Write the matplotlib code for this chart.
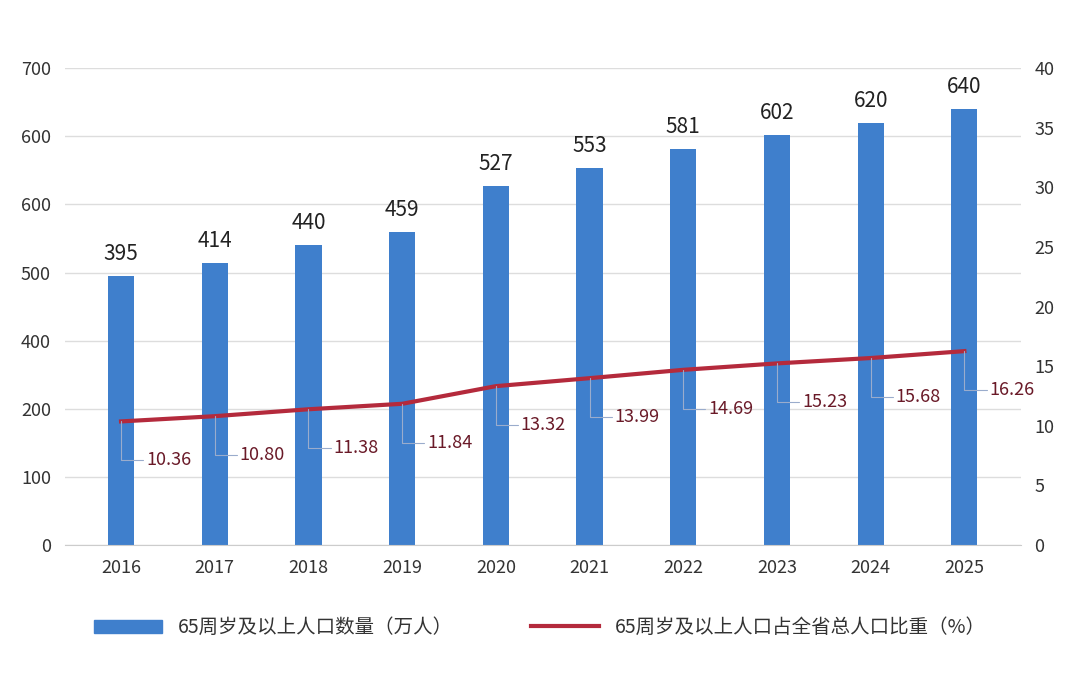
import matplotlib
matplotlib.use('Agg')
import matplotlib.pyplot as plt
from matplotlib.patches import Patch
from matplotlib.lines import Line2D

plt.rcParams['font.family'] = ['Noto Sans CJK SC', 'DejaVu Sans']

years = ['2016', '2017', '2018', '2019', '2020', '2021', '2022', '2023', '2024', '2025']
population = [395, 414, 440, 459, 527, 553, 581, 602, 620, 640]
share = [10.36, 10.80, 11.38, 11.84, 13.32, 13.99, 14.69, 15.23, 15.68, 16.26]
left_ticks = [0, 100, 200, 300, 400, 500, 600, 700]
left_labels = ['0', '100', '200', '400', '500', '600', '600', '700']
right_ticks = [0, 5, 10, 15, 20, 25, 30, 35, 40]

bar_color = '#3f7fcc'
line_color = '#b42a3c'
label_red = '#6a1a28'
tick_color = '#333333'

fig = plt.figure(figsize=(10.8, 6.76), dpi=100)
ax = fig.add_axes([0.06, 0.194, 0.885, 0.705])
ax2 = ax.twinx()

x = range(len(years))
ax.bar(x, population, width=0.28, color=bar_color, zorder=2)
for xi, v in zip(x, population):
    ax.annotate(str(v), (xi, v), xytext=(0, 8), textcoords='offset points',
                ha='center', va='bottom', fontsize=15, color='#222222')

ax.set_ylim(0, 700)
ax.set_yticks(left_ticks)
ax.set_yticklabels(left_labels)
ax.set_xlim(-0.6, len(years) - 0.4)
ax.set_xticks(list(x))
ax.set_xticklabels(years)
ax.grid(axis='y', color='#dddddd', linewidth=1, zorder=0)
ax.set_axisbelow(True)

ax2.plot(list(x), share, color=line_color, linewidth=3, zorder=3)
ax2.set_ylim(0, 40)
ax2.set_yticks(right_ticks)
for xi, v in zip(x, share):
    ax2.annotate(f'{v:.2f}', (xi, v), xytext=(18, -28), textcoords='offset points',
                 ha='left', va='center', fontsize=13, color=label_red,
                 arrowprops=dict(arrowstyle='-', color='#9aaccc', lw=0.8,
                                 connectionstyle='angle,angleA=0,angleB=90,rad=0',
                                 shrinkA=0, shrinkB=0))

for a in (ax, ax2):
    for s in a.spines.values():
        s.set_visible(False)
    a.tick_params(length=0, labelsize=13, colors=tick_color, pad=10)
ax.spines['bottom'].set_visible(True)
ax.spines['bottom'].set_color('#cccccc')

handles = [Patch(color=bar_color), Line2D([], [], color=line_color, lw=3)]
labels = ['65周岁及以上人口数量（万人）', '65周岁及以上人口占全省总人口比重（%）']
fig.legend(handles, labels, loc='lower center', bbox_to_anchor=(0.5, 0.03), ncol=2,
           frameon=False, fontsize=14, columnspacing=4, handlelength=3.5,
           labelcolor='#333333')

fig.savefig('out.png', dpi=100)
